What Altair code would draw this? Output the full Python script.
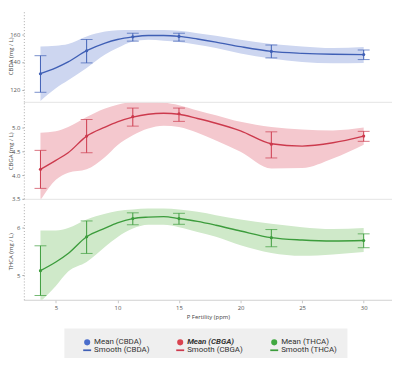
import altair as alt
import pandas as pd

# ---------------- data ----------------
x_means = [3.75, 7.5, 11.25, 15, 22.5, 30]
x_smooth = [3.75, 5, 6, 7.5, 9, 10, 11.25, 12.5, 13.75, 15, 16.5, 18, 20, 22.5, 25, 27.5, 30]

cbda_mean = [131.5, 148.1, 158.1, 158.4, 147.6, 145.3]
cbda_lo = [118.1, 139.3, 155.0, 155.0, 142.9, 141.7]
cbda_hi = [144.5, 156.2, 160.7, 160.7, 152.2, 148.6]
cbda_smooth = [131.5, 135.7, 140.0, 148.1, 153.6, 156.2, 158.1, 159.1, 159.1, 158.4, 156.5, 154.3, 151.0, 147.6, 146.2, 145.5, 145.3]
cbda_band_lo = [111.9, 121.0, 126.7, 135.7, 145.3, 150.0, 154.8, 156.0, 155.3, 154.3, 152.4, 150.0, 146.0, 142.4, 140.0, 139.1, 139.3]
cbda_band_hi = [151.2, 151.7, 152.9, 158.4, 161.9, 162.9, 163.1, 163.1, 163.1, 162.4, 160.7, 158.8, 156.0, 152.9, 151.2, 150.0, 150.7]

cbga_mean = [4.12, 4.82, 5.23, 5.29, 4.65, 4.82]
cbga_lo = [3.72, 4.47, 5.03, 5.13, 4.36, 4.71]
cbga_hi = [4.52, 5.17, 5.41, 5.41, 4.91, 4.92]
cbga_smooth = [4.12, 4.31, 4.47, 4.82, 5.01, 5.12, 5.22, 5.28, 5.30, 5.28, 5.19, 5.09, 4.93, 4.66, 4.61, 4.68, 4.82]
cbga_band_lo = [3.47, 3.90, 4.05, 4.12, 4.38, 4.63, 4.84, 4.98, 5.04, 5.01, 4.89, 4.73, 4.49, 4.14, 4.15, 4.35, 4.64]
cbga_band_hi = [4.89, 4.92, 5.01, 5.22, 5.40, 5.48, 5.53, 5.53, 5.52, 5.47, 5.36, 5.26, 5.12, 5.01, 4.96, 4.94, 5.00]

thca_mean = [5.10, 5.81, 6.19, 6.19, 5.79, 5.73]
thca_lo = [4.58, 5.46, 6.06, 6.07, 5.60, 5.58]
thca_hi = [5.62, 6.14, 6.31, 6.30, 5.96, 5.87]
thca_smooth = [5.10, 5.28, 5.46, 5.81, 5.99, 6.10, 6.19, 6.22, 6.23, 6.19, 6.13, 6.05, 5.93, 5.79, 5.74, 5.72, 5.73]
thca_band_lo = [4.45, 4.78, 5.08, 5.28, 5.60, 5.80, 5.98, 6.06, 6.06, 6.01, 5.91, 5.81, 5.63, 5.47, 5.41, 5.44, 5.49]
thca_band_hi = [5.94, 5.94, 5.99, 6.17, 6.29, 6.35, 6.38, 6.40, 6.40, 6.38, 6.33, 6.26, 6.17, 6.08, 6.01, 5.97, 5.99]

x_ticks = [5, 10, 15, 20, 25, 30]
legend_labels = ["Mean (CBDA)", "Mean (CBGA)", "Mean (THCA)",
                 "Smooth (CBDA)", "Smooth (CBGA)", "Smooth (THCA)"]

# ---------------- style ----------------
FONT = "Open Sans"
LINE = {"CBDA": "#3f5fb5", "CBGA": "#cc3a4d", "THCA": "#3c9c3c"}
BAND = {"CBDA": "#cdd6f0", "CBGA": "#f4c8ce", "THCA": "#cfe9c9"}
DOT = {"CBDA": "#4a6dcb", "CBGA": "#d9434f", "THCA": "#40a840"}
X_DOMAIN = [2.4, 32.3]
W = 372


def panel(name, mean, lo, hi, sm, blo, bhi, ydomain, yticks, height, bottom):
    dfm = pd.DataFrame({"x": x_means, "mean": mean, "lo": lo, "hi": hi})
    dfs = pd.DataFrame({"x": x_smooth, "sm": sm, "blo": blo, "bhi": bhi})
    ytitle = f"{name} (mg / L)"
    if bottom:
        xaxis = alt.Axis(values=x_ticks, title="P Fertility (ppm)", labelFontSize=6,
                         labelColor="#555", titleFontSize=6, titleFontWeight="normal",
                         titleColor="#444", tickSize=3, tickColor="#c8c8c8",
                         domainColor="#d0d0d0", labelPadding=2, titlePadding=3,
                         labelFont=FONT, titleFont=FONT, grid=False)
    else:
        xaxis = alt.Axis(labels=False, ticks=False, title=None, domainColor="#e4e4e4",
                         grid=False)
    xs = alt.Scale(domain=X_DOMAIN, nice=False, zero=False)
    ys = alt.Scale(domain=ydomain, nice=False, zero=False)
    yaxis = alt.Axis(values=yticks, title=ytitle, labelFontSize=6, labelColor="#555",
                     titleFontSize=6, titleFontWeight="normal", titleColor="#444",
                     tickSize=2, tickColor="#aaa", labelPadding=2, domainColor="#aaa",
                     domainDash=[1, 2], grid=False, minExtent=9, maxExtent=9,
                     titlePadding=1, labelFont=FONT, titleFont=FONT)
    X = alt.X("x:Q", scale=xs, axis=xaxis, title="P Fertility (ppm)" if bottom else None)

    def Y(field):
        return alt.Y(f"{field}:Q", scale=ys, axis=yaxis, title=ytitle)

    band = alt.Chart(dfs).mark_area(color=BAND[name], opacity=1, clip=True,
                                    interpolate="monotone").encode(
        x=X, y=Y("blo"), y2="bhi:Q")
    line = alt.Chart(dfs).mark_line(color=LINE[name], strokeWidth=1.4, clip=True,
                                    interpolate="monotone").encode(x=X, y=Y("sm"))
    rule = alt.Chart(dfm).mark_rule(color=LINE[name], strokeWidth=1).encode(
        x=X, y=Y("lo"), y2="hi:Q")
    cap_lo = alt.Chart(dfm).mark_tick(color=LINE[name], orient="horizontal", size=12,
                                      thickness=1).encode(x=X, y=Y("lo"))
    cap_hi = alt.Chart(dfm).mark_tick(color=LINE[name], orient="horizontal", size=12,
                                      thickness=1).encode(x=X, y=Y("hi"))
    pts = alt.Chart(dfm).mark_point(filled=True, size=10, color=LINE[name],
                                    opacity=1).encode(x=X, y=Y("mean"))
    layers = [band, line, rule, cap_lo, cap_hi, pts]

    if bottom:
        leg_df = pd.DataFrame({"label": legend_labels,
                               "x": [X_DOMAIN[1] + 50] * 6,
                               "y": [ydomain[0]] * 6})
        bar_path = "M-1.3,-0.28H1.3V0.28H-1.3Z"
        legend = alt.Legend(
            orient="none", legendX=41, legendY=322, columns=3, title=None,
            fillColor="#efefef", padding=10, symbolOffset=9, columnPadding=18,
            rowPadding=0, symbolSize=38, labelFontSize=8, labelFont="Roboto",
            labelColor="#333", labelOffset=3, direction="horizontal",
            labelFontStyle=alt.ExprRef(expr="datum.label === 'Mean (CBGA)' ? 'italic' : 'normal'"),
            labelFontWeight=alt.ExprRef(expr="datum.label === 'Mean (CBGA)' ? 'bold' : 'normal'"),
        )
        dummy = alt.Chart(leg_df).mark_point(filled=True, clip=True, opacity=1).encode(
            x=alt.X("x:Q", scale=xs, axis=xaxis, title="P Fertility (ppm)"),
            y=alt.Y("y:Q", scale=ys, axis=yaxis, title=ytitle),
            color=alt.Color("label:N", sort=legend_labels,
                            scale=alt.Scale(domain=legend_labels,
                                            range=[DOT["CBDA"], DOT["CBGA"], DOT["THCA"],
                                                   LINE["CBDA"], LINE["CBGA"], LINE["THCA"]]),
                            legend=legend),
            shape=alt.Shape("label:N", sort=legend_labels,
                            scale=alt.Scale(domain=legend_labels,
                                            range=["circle", "circle", "circle",
                                                   bar_path, bar_path, bar_path]),
                            legend=legend),
        )
        layers.append(dummy)

    return alt.layer(*layers).properties(width=W, height=height)


p1 = panel("CBDA", cbda_mean, cbda_lo, cbda_hi, cbda_smooth, cbda_band_lo, cbda_band_hi,
           [111.2, 177.6], [120, 140, 160], 93, False)
p2 = panel("CBGA", cbga_mean, cbga_lo, cbga_hi, cbga_smooth, cbga_band_lo, cbga_band_hi,
           [3.5, 5.52], [3.5, 4.0, 4.5, 5.0], 97, False)
p3 = panel("THCA", thca_mean, thca_lo, thca_hi, thca_smooth, thca_band_lo, thca_band_hi,
           [4.49, 6.52], [5, 6], 98, True)

chart = alt.vconcat(p1, p2, p3, spacing=1).properties(
    padding={"left": 0, "top": 0, "right": 0, "bottom": -8}
).configure(font=FONT).configure_view(stroke=None)

chart.save("out.html", embed_options={"renderer": "svg", "actions": False})
